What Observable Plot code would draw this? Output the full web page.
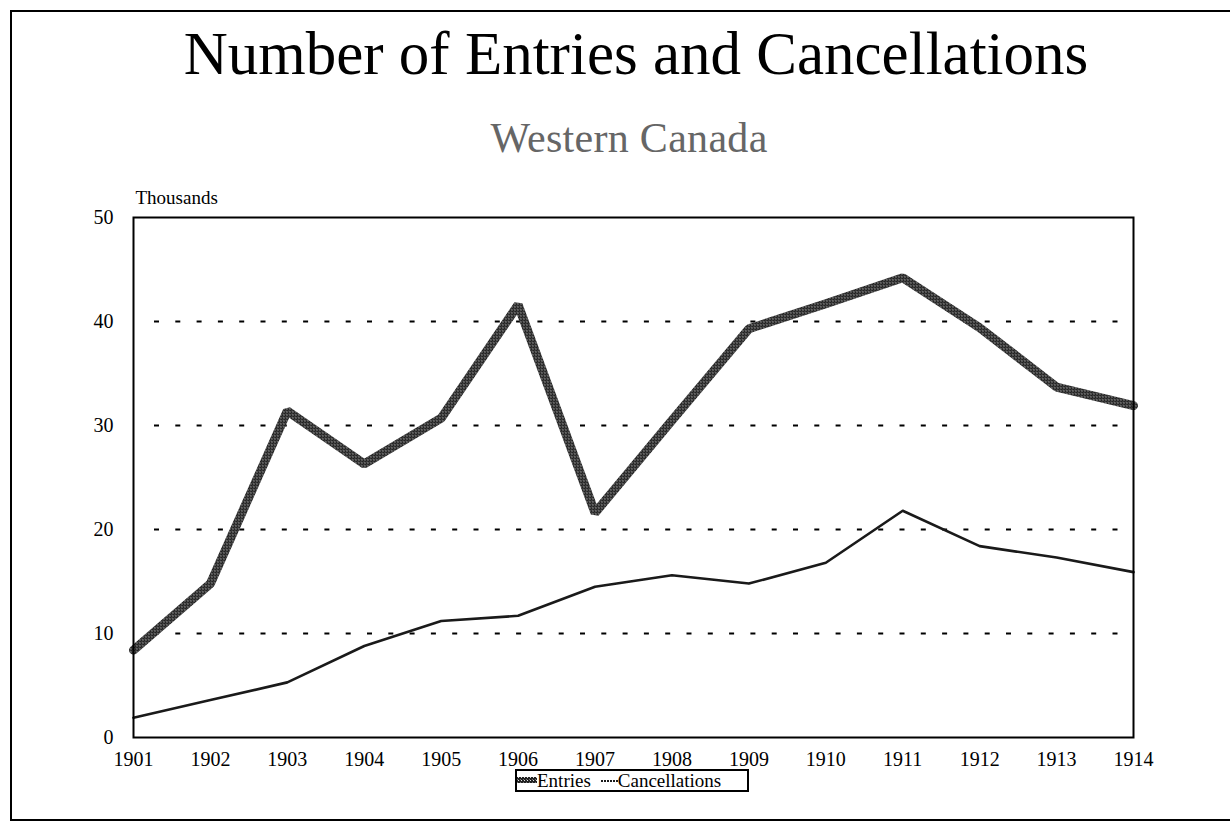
<!DOCTYPE html>
<html>
<head>
<meta charset="utf-8">
<script src="https://cdn.jsdelivr.net/npm/d3@7"></script>
<script src="https://cdn.jsdelivr.net/npm/@observablehq/plot@0.6"></script>
<style>
  body { margin: 0; background: #fff; overflow: hidden; font-family: "Liberation Serif", "Times New Roman", serif; }
  #page { position: relative; width: 1230px; height: 823px; overflow: hidden; background: #fff; }
  #border { position: absolute; left: 10px; top: 10px; width: 1240px; height: 811px; border: 2px solid #000; box-sizing: border-box; }
  #title { position: absolute; left: 636px; top: 23px; transform: translateX(-50%); font-size: 61px; line-height: 1; white-space: nowrap; color: #000; }
  #subtitle { position: absolute; left: 629px; top: 117px; transform: translateX(-50%); font-size: 42px; line-height: 1; white-space: nowrap; color: #666; letter-spacing: 0.3px; }
  #chart { position: absolute; left: 0; top: 170px; }
  #legend { position: absolute; left: 515px; top: 769px; width: 234px; height: 23px; border: 2px solid #000; box-sizing: border-box;
            display: flex; align-items: center; font-size: 19px; line-height: 1; white-space: nowrap; }
  #legend .item { display: flex; align-items: center; }
  #legend svg { display: block; }
</style>
</head>
<body>
<div id="page">
  <div id="border"></div>
  <div id="title">Number of Entries and Cancellations</div>
  <div id="subtitle">Western Canada</div>
  <div id="chart"></div>
  <div id="legend"></div>
</div>
<script>
// Homestead entries and cancellations, Western Canada (thousands)
const years = [1901, 1902, 1903, 1904, 1905, 1906, 1907, 1908, 1909, 1910, 1911, 1912, 1913, 1914];
const entries = [8.4, 14.8, 31.4, 26.3, 30.7, 41.6, 21.6, 30.5, 39.3, 41.7, 44.2, 39.4, 33.7, 31.9];
const cancellations = [1.9, 3.6, 5.3, 8.8, 11.2, 11.7, 14.5, 15.6, 14.8, 16.8, 21.8, 18.4, 17.3, 15.9];
const yTicks = [0, 10, 20, 30, 40, 50];
const gridValues = [10, 20, 30, 40];
const yUnit = "Thousands";
const seriesNames = ["Entries", "Cancellations"];

const entryRows = years.map((year, i) => ({year, value: entries[i]}));
const cancelRows = years.map((year, i) => ({year, value: cancellations[i]}));

// Halftone fill used for the thick Entries line
const halftone = `
  <defs>
    <pattern id="halftone" patternUnits="userSpaceOnUse" width="3" height="3">
      <rect width="3" height="3" fill="#222"></rect>
      <rect x="1" y="1" width="1" height="1" fill="#e0e0e0"></rect>
      <rect x="0" y="0" width="1" height="1" fill="#777"></rect>
    </pattern>
  </defs>`;

const chart = Plot.plot({
  width: 1230,
  height: 620,
  marginLeft: 133,
  marginRight: 97,
  marginTop: 47,
  marginBottom: 53,
  style: { fontFamily: "'Liberation Serif', 'Times New Roman', serif", fontSize: "20px", color: "#000", background: "transparent", overflow: "visible" },
  x: { domain: [years[0], years[years.length - 1]] },
  y: { domain: [0, 50] },
  marks: [
    Plot.ruleY(gridValues, { stroke: "#000", strokeWidth: 1.8, strokeDasharray: "5,16.3", insetLeft: 21, insetRight: 6 }),
    Plot.line(cancelRows, { x: "year", y: "value", stroke: "#1a1a1a", strokeWidth: 2.6, strokeLinejoin: "round" }),
    Plot.line(entryRows, { x: "year", y: "value", stroke: "url(#halftone)", strokeWidth: 9, strokeLinejoin: "miter", strokeLinecap: "round" }),
    Plot.frame({ stroke: "#000", strokeWidth: 2 }),
    Plot.axisX({ ticks: years, tickFormat: d => String(d), tickSize: 0, tickPadding: 14, label: null }),
    Plot.axisY({ ticks: yTicks, tickSize: 0, tickPadding: 20, label: null }),
    Plot.text([yUnit], { frameAnchor: "top-left", text: d => d, textAnchor: "start", lineAnchor: "middle", dx: 2, dy: -20, fontSize: 19 })
  ]
});
chart.insertAdjacentHTML("afterbegin", halftone);
document.getElementById("chart").appendChild(chart);

// Legend: swatch + label for each series
const legend = document.getElementById("legend");
const swatches = [
  `<svg width="20" height="10"><defs><pattern id="halftone-legend" patternUnits="userSpaceOnUse" width="3" height="3"><rect width="3" height="3" fill="#222"></rect><rect x="1" y="1" width="1" height="1" fill="#e0e0e0"></rect><rect x="0" y="0" width="1" height="1" fill="#777"></rect></pattern></defs><rect x="0" y="1" width="20" height="6" fill="url(#halftone-legend)"></rect></svg>`,
  `<svg width="20" height="10"><line x1="3" x2="20" y1="5" y2="5" stroke="#1a1a1a" stroke-width="2" stroke-dasharray="2,1"></line></svg>`
];
seriesNames.forEach((name, i) => {
  const item = document.createElement("div");
  item.className = "item";
  item.style.marginLeft = i === 0 ? "0px" : "7px";
  item.innerHTML = swatches[i] + `<span>${name}</span>`;
  legend.appendChild(item);
});
</script>
</body>
</html>
